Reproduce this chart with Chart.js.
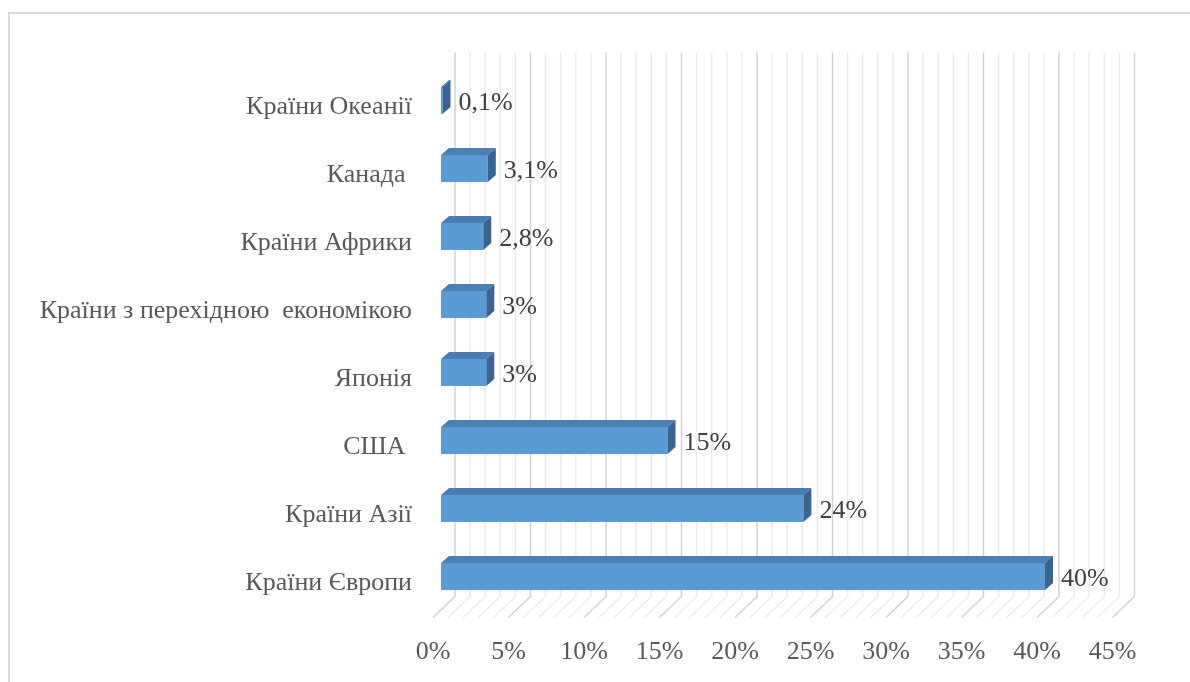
<!DOCTYPE html>
<html lang="uk">
<head>
<meta charset="utf-8">
<title>Регіональна структура</title>
<script src="https://cdn.jsdelivr.net/npm/chart.js@4.4.1/dist/chart.umd.min.js"></script>
<style>
  html, body { margin: 0; padding: 0; background: #fff; overflow: hidden; }
  #wrap { position: relative; width: 1190px; height: 682px; }
  #frame {
    position: absolute; left: 8px; top: 12px;
    width: 1300px; height: 800px;
    border: 2px solid #dadada; box-sizing: border-box;
  }
  #chart { position: absolute; left: 0; top: 0; }
</style>
</head>
<body>
<div id="wrap">
  <div id="frame"></div>
  <canvas id="chart" width="1190" height="682"></canvas>
</div>
<script>
// categories top to bottom
const regions = [
  'Країни Океанії',
  'Канада ',
  'Країни Африки',
  'Країни з перехідною  економікою',
  'Японія',
  'США ',
  'Країни Азії',
  'Країни Європи'
];
const shares = [0.1, 3.1, 2.8, 3, 3, 15, 24, 40];
const axisMax = 45;
const axisStep = 5;

const FONT = { family: "'Liberation Serif', 'Times New Roman', serif", size: 26 };
const TEXT_COLOR = '#595959';

// 3D offsets (px)
const BAR_DX = 8, BAR_DY = 7;       // bar depth
const WALL_DX = 14, WALL_DY = 14;   // back wall relative to bar front plane
const FLOOR_DX = 8, FLOOR_DY = 7;   // floor front edge relative to bar front plane

const fmtPct = v => String(v).replace('.', ',') + '%';

// back wall + floor grid
const wallGrid = {
  id: 'wallGrid',
  beforeDatasetsDraw(chart) {
    const { ctx, chartArea, scales: { x } } = chart;
    ctx.save();
    ctx.lineWidth = 1.5;
    [false, true].forEach(major => {
      ctx.strokeStyle = major ? '#d2d2d2' : '#ebebeb';
      for (let v = 0; v <= axisMax; v++) {
        if ((v % axisStep === 0) !== major) continue;
        const px = x.getPixelForValue(v);
        ctx.beginPath();
        ctx.moveTo(px + WALL_DX, chartArea.top - WALL_DY);
        ctx.lineTo(px + WALL_DX, chartArea.bottom - WALL_DY);
        ctx.lineTo(px - FLOOR_DX, chartArea.bottom + FLOOR_DY);
        ctx.stroke();
      }
    });
    ctx.restore();
  }
};

// top/side faces of each bar and value labels
const barFaces = {
  id: 'barFaces',
  afterDatasetsDraw(chart) {
    const { ctx } = chart;
    const meta = chart.getDatasetMeta(0);
    ctx.save();
    meta.data.forEach((bar, i) => {
      const { x: end, y, base, height } = bar.getProps(['x', 'y', 'base', 'height'], true);
      const top = y - height / 2;
      const bottom = y + height / 2;

      ctx.fillStyle = '#4a7fb6';
      ctx.beginPath();
      ctx.moveTo(base, top);
      ctx.lineTo(base + BAR_DX, top - BAR_DY);
      ctx.lineTo(end + BAR_DX, top - BAR_DY);
      ctx.lineTo(end, top);
      ctx.closePath();
      ctx.fill();

      ctx.fillStyle = '#3a6591';
      ctx.beginPath();
      ctx.moveTo(end, top);
      ctx.lineTo(end + BAR_DX, top - BAR_DY);
      ctx.lineTo(end + BAR_DX, bottom - BAR_DY);
      ctx.lineTo(end, bottom);
      ctx.closePath();
      ctx.fill();

      ctx.fillStyle = '#404040';
      ctx.font = `${FONT.size}px ${FONT.family}`;
      ctx.textAlign = 'left';
      ctx.textBaseline = 'middle';
      ctx.fillText(fmtPct(shares[i]), end + 16, y + 3);
    });
    ctx.restore();
  }
};

new Chart(document.getElementById('chart'), {
  type: 'bar',
  data: {
    labels: regions,
    datasets: [{
      data: shares,
      backgroundColor: '#5b9bd5',
      borderWidth: 0,
      barPercentage: 0.4,
      categoryPercentage: 1
    }]
  },
  options: {
    indexAxis: 'y',
    responsive: false,
    animation: false,
    layout: { padding: { top: 66.5, right: 69.5, left: 0, bottom: 0 } },
    plugins: {
      legend: { display: false },
      tooltip: { enabled: false }
    },
    scales: {
      x: {
        min: 0,
        max: axisMax,
        afterFit: scale => { scale.height = 71.5; },
        grid: { display: false, drawTicks: false },
        border: { display: false },
        ticks: {
          stepSize: axisStep,
          autoSkip: false,
          maxRotation: 0,
          padding: 26,
          labelOffset: -8,
          color: TEXT_COLOR,
          font: FONT,
          callback: v => v + '%'
        }
      },
      y: {
        afterFit: scale => { scale.width = 441; },
        grid: { display: false, drawTicks: false },
        border: { display: false },
        ticks: {
          autoSkip: false,
          padding: 29,
          labelOffset: 7,
          color: TEXT_COLOR,
          font: FONT
        }
      }
    }
  },
  plugins: [wallGrid, barFaces]
});
</script>
</body>
</html>
